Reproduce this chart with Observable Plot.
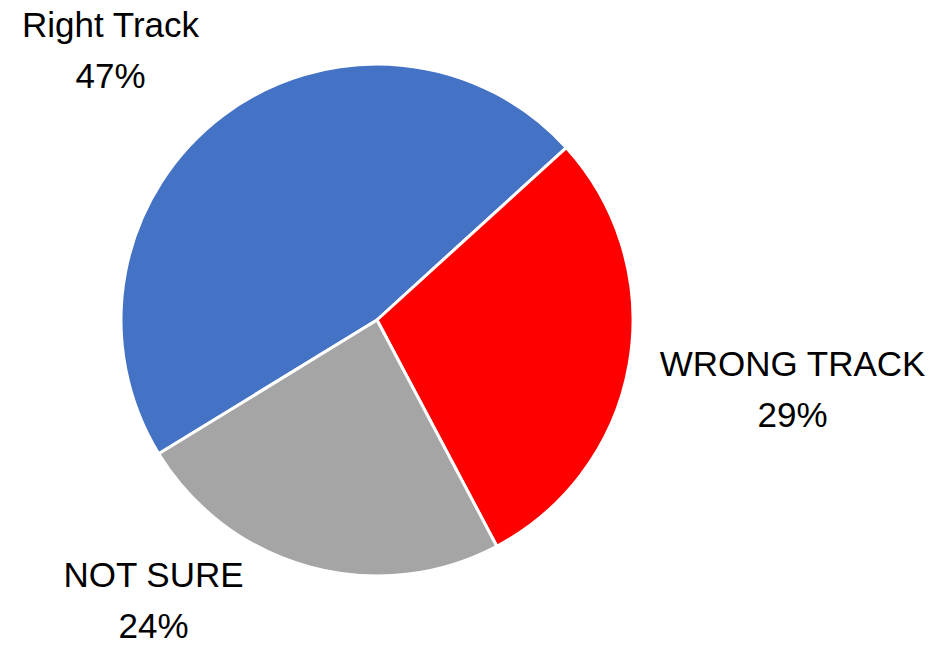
<!DOCTYPE html>
<html>
<head>
<meta charset="utf-8">
<script src="https://cdn.jsdelivr.net/npm/d3@7"></script>
<script src="https://cdn.jsdelivr.net/npm/@observablehq/plot@0.6"></script>
<style>
  html, body { margin: 0; padding: 0; background: #fff; }
  #chart svg { display: block; }
</style>
</head>
<body>
<div id="chart"></div>
<script>
const categories = ["Right Track", "WRONG TRACK", "NOT SURE"];
const values = [47, 29, 24];
const colors = ["#4472C4", "#FF0000", "#A5A5A5"];
const labelText = ["Right Track\n47%", "WRONG TRACK\n29%", "NOT SURE\n24%"];

const W = 930, H = 647;
const cx = 377, cy = 320, R = 256;
const startDeg = -121.5;

const data = categories.map((c, i) => ({ category: c, value: values[i], label: labelText[i] }));
const pie = d3.pie().value(d => d.value).sort(null)
  .startAngle(startDeg * Math.PI / 180)
  .endAngle((startDeg + 360) * Math.PI / 180);
const arcs = pie(data);

// label anchor positions (pixel space, center of the two-line text block)
const labelPos = [
  { x: 110, y: 46 },
  { x: 792, y: 385 },
  { x: 153, y: 596 }
];
const labels = data.map((d, i) => ({ ...d, lx: labelPos[i].x, ly: labelPos[i].y }));

const color = Plot.scale({ color: { domain: categories, range: colors } });

function pieMark(index, scales, values, dimensions, context) {
  const g = d3.select(context.document.createElementNS("http://www.w3.org/2000/svg", "g"));
  const arcGen = d3.arc().innerRadius(0).outerRadius(R);
  const px = scales.x(cx), py = scales.y(cy);
  g.attr("transform", `translate(${px},${py})`);
  g.selectAll("path").data(arcs).join("path")
    .attr("d", arcGen)
    .attr("fill", d => color.apply(d.data.category))
    .attr("stroke", "#fff")
    .attr("stroke-width", 3)
    .attr("stroke-linejoin", "round");
  return g.node();
}

const chart = Plot.plot({
  width: W,
  height: H,
  margin: 0,
  x: { domain: [0, W], range: [0, W], axis: null },
  y: { domain: [0, H], range: [0, H], axis: null },
  style: { fontFamily: "'Liberation Sans', Arial, sans-serif", background: "#fff" },
  marks: [
    pieMark,
    Plot.text(labels, {
      x: "lx", y: "ly", text: "label",
      fontSize: 35, fill: "#000", lineHeight: 1.46,
      textAnchor: "middle"
    })
  ]
});
document.getElementById("chart").appendChild(chart);
</script>
</body>
</html>
